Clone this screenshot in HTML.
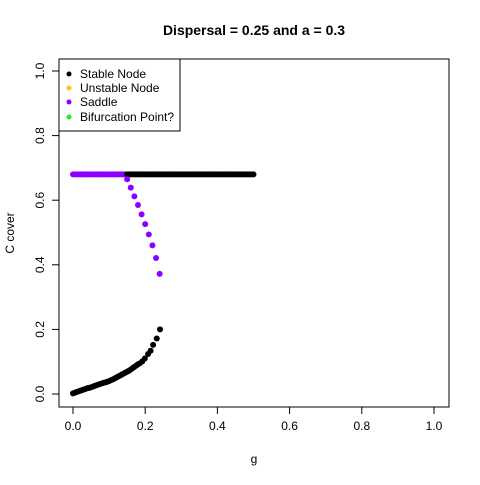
<!DOCTYPE html>
<html><head><meta charset="utf-8"><style>
body{margin:0;background:#fff}
svg text{font-family:"Liberation Sans",Arial,sans-serif}
</style></head><body>
<svg id="chart" width="480" height="480" xmlns="http://www.w3.org/2000/svg">
<rect width="480" height="480" fill="#fff"/>
<text x="254" y="35" text-anchor="middle" font-size="14" font-weight="bold">Dispersal =  0.25 and a = 0.3</text>
<rect x="59" y="59" width="390" height="348" fill="none" stroke="#000" stroke-width="1"/>
<text x="254" y="463" text-anchor="middle" font-size="12">g</text>
<text transform="translate(14,233) rotate(-90)" text-anchor="middle" font-size="12">C cover</text>
<g id="axes"></g>
<g id="marks"></g>
<g>
<rect x="59" y="59" width="121" height="72" fill="#fff" stroke="#000"/>
<circle cx="69" cy="74" r="2.5" fill="#000"/><text x="80" y="78" font-size="12">Stable Node</text>
<circle cx="69" cy="88" r="2.5" fill="#FFC125"/><text x="80" y="92" font-size="12">Unstable Node</text>
<circle cx="69" cy="102" r="2.5" fill="#8B00FF"/><text x="80" y="106" font-size="12">Saddle</text>
<circle cx="69" cy="117" r="2.5" fill="#22EE22"/><text x="80" y="121" font-size="12">Bifurcation Point?</text>
</g>
</svg>
<script>
const xTicks=[0,0.2,0.4,0.6,0.8,1.0];
const xTickLabels=["0.0","0.2","0.4","0.6","0.8","1.0"];
const yTicks=[0,0.2,0.4,0.6,0.8,1.0];
const yTickLabels=["0.0","0.2","0.4","0.6","0.8","1.0"];
const saddleTopG=[0,0.005,0.01,0.015,0.02,0.025,0.03,0.035,0.04,0.045,0.05,0.055,0.06,0.065,0.07,0.075,0.08,0.085,0.09,0.095,0.1,0.105,0.11,0.115,0.12,0.125,0.13,0.135,0.14,0.145];
const saddleTopC=[0.68,0.68,0.68,0.68,0.68,0.68,0.68,0.68,0.68,0.68,0.68,0.68,0.68,0.68,0.68,0.68,0.68,0.68,0.68,0.68,0.68,0.68,0.68,0.68,0.68,0.68,0.68,0.68,0.68,0.68];
const stableTopG=[0.15,0.155,0.16,0.165,0.17,0.175,0.18,0.185,0.19,0.195,0.2,0.205,0.21,0.215,0.22,0.225,0.23,0.235,0.24,0.245,0.25,0.255,0.26,0.265,0.27,0.275,0.28,0.285,0.29,0.295,0.3,0.305,0.31,0.315,0.32,0.325,0.33,0.335,0.34,0.345,0.35,0.355,0.36,0.365,0.37,0.375,0.38,0.385,0.39,0.395,0.4,0.405,0.41,0.415,0.42,0.425,0.43,0.435,0.44,0.445,0.45,0.455,0.46,0.465,0.47,0.475,0.48,0.485,0.49,0.495,0.5];
const stableTopC=[0.68,0.68,0.68,0.68,0.68,0.68,0.68,0.68,0.68,0.68,0.68,0.68,0.68,0.68,0.68,0.68,0.68,0.68,0.68,0.68,0.68,0.68,0.68,0.68,0.68,0.68,0.68,0.68,0.68,0.68,0.68,0.68,0.68,0.68,0.68,0.68,0.68,0.68,0.68,0.68,0.68,0.68,0.68,0.68,0.68,0.68,0.68,0.68,0.68,0.68,0.68,0.68,0.68,0.68,0.68,0.68,0.68,0.68,0.68,0.68,0.68,0.68,0.68,0.68,0.68,0.68,0.68,0.68,0.68,0.68,0.68];
const saddleG=[0.15,0.16,0.17,0.18,0.19,0.2,0.21,0.22,0.23,0.24];
const saddleC=[0.665,0.639,0.612,0.585,0.556,0.526,0.494,0.46,0.421,0.372];
const stableLowG=[0,0.005,0.01,0.015,0.02,0.025,0.03,0.035,0.04,0.045,0.05,0.055,0.06,0.065,0.07,0.075,0.08,0.085,0.09,0.095,0.1,0.105,0.11,0.115,0.12,0.125,0.13,0.135,0.14,0.145,0.15,0.155,0.16,0.165,0.17,0.175,0.18,0.185,0.192,0.199,0.208,0.215,0.222,0.232,0.241];
const stableLowC=[0.002,0.004,0.006,0.008,0.010,0.012,0.014,0.016,0.018,0.019,0.021,0.023,0.025,0.027,0.029,0.031,0.033,0.035,0.036,0.038,0.040,0.043,0.045,0.048,0.051,0.054,0.057,0.060,0.063,0.066,0.069,0.072,0.076,0.080,0.084,0.088,0.092,0.095,0.101,0.11,0.124,0.134,0.152,0.172,0.2];
const X=g=>73+g*361, Y=c=>394-c*323;
const NS="http://www.w3.org/2000/svg";
const axes=document.getElementById('axes'), marks=document.getElementById('marks');
function mk(tag,attrs,parent){const e=document.createElementNS(NS,tag);for(const k in attrs)e.setAttribute(k,attrs[k]);parent.appendChild(e);return e;}
const xl=mk('line',{x1:X(0),x2:X(1),y1:407,y2:407,stroke:'#000'},axes);


xTicks.forEach((t,i)=>{mk('line',{x1:X(t),x2:X(t),y1:407,y2:414,stroke:'#000'},axes);
const tx=mk('text',{x:X(t),y:430,'text-anchor':'middle','font-size':12},axes);tx.textContent=xTickLabels[i];

});
const yl=mk('line',{x1:59,x2:59,y1:Y(0),y2:Y(1),stroke:'#000'},axes);


yTicks.forEach((t,i)=>{mk('line',{x1:52,x2:59,y1:Y(t),y2:Y(t),stroke:'#000'},axes);
const tx=mk('text',{transform:`translate(44,${Y(t)}) rotate(-90)`,'text-anchor':'middle','font-size':12},axes);tx.textContent=yTickLabels[i];

});
function series(G,C,color,name){G.forEach((g,i)=>{const c=mk('circle',{cx:X(g),cy:Y(C[i]),r:3,fill:color},marks);

});}
series(saddleTopG,saddleTopC,'#8B00FF','saddle-point');
series(stableTopG,stableTopC,'#000','stable-point');
series(saddleG,saddleC,'#8B00FF','saddle-point');
series(stableLowG,stableLowC,'#000','stable-point');
</script>
</body></html>
